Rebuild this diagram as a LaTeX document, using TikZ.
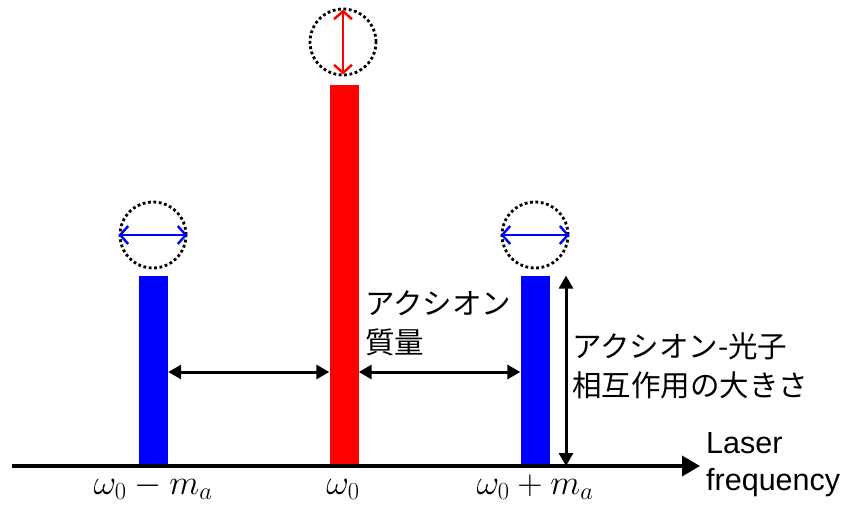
\RequirePackage{fix-cm}
\documentclass[tikz,border=0pt]{standalone}
\usepackage{fontspec}
\newfontfamily\jpfont{Noto Sans CJK JP}
\newfontfamily\axisfont{Liberation Sans}
\usetikzlibrary{arrows.meta}

\begin{document}
\begin{tikzpicture}[x=1pt,y=-1pt,
  bar/.style={draw=none,minimum width=29pt,inner sep=0pt,anchor=south},
  ring/.style={draw,circle,line width=2.8pt,dash pattern=on 2.8pt off 2.6pt,minimum size=66pt,inner sep=0pt},
  wiggle/.style={line width=2.4pt,{Straight Barb[length=8pt,width=18pt]}-{Straight Barb[length=8pt,width=18pt]}},
  gap/.style={line width=3pt,{Triangle[length=13pt,width=14pt]}-{Triangle[length=13pt,width=14pt]}},
  jp/.style={font=\jpfont\fontsize{29.5}{39}\selectfont,align=left,inner sep=0pt,anchor=north west},
  freq/.style={font=\fontsize{35}{40}\selectfont,inner sep=0pt,anchor=base}]
  \useasboundingbox (0,0) rectangle (845,508);

  % sidebands and carrier
  \node[bar,fill=blue,minimum height=190pt] (lbar) at (153.5,466) {};
  \node[bar,fill=red,minimum height=381pt]  (cbar) at (344,466) {};
  \node[bar,fill=blue,minimum height=190pt] (rbar) at (535,466) {};

  \node[ring] (lring) at (153,235) {};
  \node[ring] (cring) at (343,42) {};
  \node[ring] (rring) at (535,235) {};

  \draw[wiggle,blue] (lring.west) -- (lring.east);
  \draw[wiggle,red,shorten <=2pt,shorten >=2pt] (cring.north) -- (cring.south);
  \draw[wiggle,blue] (rring.west) -- (rring.east);

  \coordinate (mid) at (0,372);
  \coordinate (hgt) at (566,0);
  \draw[gap] (lbar.east |- mid) -- (cbar.west |- mid);
  \draw[gap] (cbar.east |- mid) -- (rbar.west |- mid);
  \draw[gap] (hgt |- rbar.north) -- (hgt |- rbar.south);

  % frequency axis
  \coordinate (o) at (12,466);
  \coordinate (tip) at (700,466);
  \draw[line width=3.5pt,-{Triangle[length=18pt,width=20pt]}] (o) -- (tip);

  \node[jp] (mass) at (365,290) {アクシオン\\質量};
  \node[jp] (coup) at (572,333) {アクシオン-光子\\相互作用の大きさ};
  \node[font=\axisfont\fontsize{30.5}{37}\selectfont,align=left,inner sep=0pt,anchor=north west]
    (xlab) at (706,432) {Laser\\frequency};

  \node[freq] (lw) at (153,494) {$\omega_0-m_a$};
  \node[freq] (cw) at (343,494) {$\omega_0$};
  \node[freq] (rw) at (535,494) {$\omega_0+m_a$};
\end{tikzpicture}
\end{document}
